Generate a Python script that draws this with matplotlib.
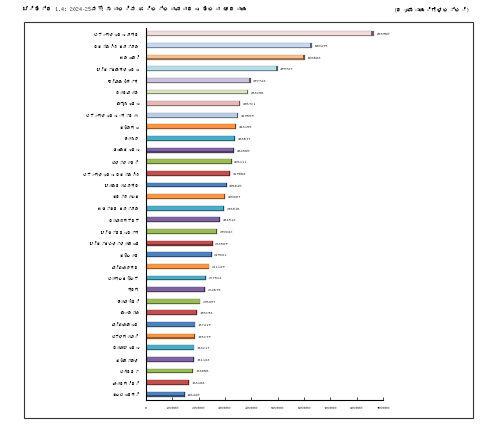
# district per capita income chart (2024-25), horizontal bars
import numpy as np
import matplotlib
matplotlib.use("Agg")
import matplotlib.pyplot as plt
from matplotlib import font_manager
from matplotlib.ft2font import FT2Font
from matplotlib.patches import Rectangle

# data, top to bottom as in the picture
districts = ["ಬೆಂಗಳೂರು ನಗರ", "ದಕ್ಷಿಣ ಕನ್ನಡ", "ಉಡುಪಿ", "ಚಿಕ್ಕಮಗಳೂರು", "ಶಿವಮೊಗ್ಗ",
             "ಧಾರವಾಡ", "ಮೈಸೂರು", "ಬೆಂಗಳೂರು (ಗ್ರಾ)", "ಕೊಡಗು", "ಹಾಸನ",
             "ತುಮಕೂರು", "ಬಳ್ಳಾರಿ", "ಬೆಂಗಳೂರು ದಕ್ಷಿಣ", "ಚಾಮರಾಜನಗರ", "ಕರ್ನಾಟಕ",
             "ಉತ್ತರ ಕನ್ನಡ", "ದಾವಣಗೆರೆ", "ಚಿತ್ರದುರ್ಗ", "ಚಿಕ್ಕಬಳ್ಳಾಪುರ", "ಕೋಲಾರ",
             "ವಿಜಯನಗರ", "ಬಾಗಲಕೋಟೆ", "ಗದಗ", "ಹಾವೇರಿ", "ಮಂಡ್ಯ",
             "ವಿಜಯಪುರ", "ಬೆಳಗಾವಿ", "ರಾಯಚೂರು", "ಕೊಪ್ಪಳ", "ಬೀದರ್",
             "ಯಾದಗಿರಿ", "ಕಲಬುರಗಿ"]
income = [865960, 630475, 603683, 499737, 397743,
          388256, 356721, 349559, 343155, 338677,
          334580, 326111, 319068, 306040, 300307,
          296016, 281513, 270332, 253589, 249331,
          241139, 227524, 224675, 206357, 193293,
          187419, 185279, 183217, 181133, 178866,
          163188, 146440]
x_ticks = [0, 100000, 200000, 300000, 400000, 500000, 600000, 700000, 800000, 900000]
title = "ಚಿತ್ರ 1.4: 2024-25ನೇ ಸಾಲಿನ ಜಿಲ್ಲಾವಾರು ತಲಾ ಆದಾಯ"
unit = "(ರೂಪಾಯಿಗಳಲ್ಲಿ)"

# excel-like palette, counted from the bottom bar; later rounds are lighter
base = ["#4F81BD", "#C0504D", "#9BBB59", "#8064A2", "#4BACC6", "#F79646"]
light = ["#B9CDE5", "#E6B9B8", "#D7E4BD", "#CCC1DA", "#B7DEE8", "#FAC090"]
lighter = ["#C6D9F1", "#F2DCDB"]


# find a font that has kannada glyphs, if any is installed
def find_kannada():
    for path in font_manager.findSystemFonts():
        try:
            if 0x0C95 in FT2Font(path).get_charmap():
                return path
        except Exception:
            pass
    return None


kn = find_kannada()
families = ["DejaVu Sans"]
if kn:
    font_manager.fontManager.addfont(kn)
    families = [font_manager.FontProperties(fname=kn).get_name(), "DejaVu Sans"]
plt.rcParams["font.family"] = families

n = len(districts)
colors = []
for i in range(n):
    k = n - 1 - i          # index from the bottom
    if k < 24:
        colors.append(base[k % 6])
    elif k < 30:
        colors.append(light[k % 6])
    else:
        colors.append(lighter[k - 30])


def darker(c, f=0.6):
    r, g, b = matplotlib.colors.to_rgb(c)
    return (r * f, g * f, b * f)


fig = plt.figure(figsize=(4.8, 4.26), dpi=100)
ax = fig.add_axes([0.304, 0.061, 0.494, 0.873])

y = np.arange(n)
ax.barh(y, income, height=0.42, color=colors, edgecolor=[darker(c, 0.75) for c in colors], linewidth=0.3)
# darker lower edge and end cap, gives the cylinder look
ax.barh(y + 0.16, income, height=0.1, color=[darker(c) for c in colors], linewidth=0)
ax.barh(y, [v * 0.012 for v in income], left=[v * 0.988 for v in income], height=0.42,
        color=[darker(c, 0.45) for c in colors], linewidth=0)

for i in range(n):
    ax.text(income[i] + 9000, y[i], str(income[i]), fontsize=3.2, va="center", ha="left")

ax.set_ylim(n - 0.5, -0.5)
ax.set_xlim(0, 900000)
ax.set_yticks(y)
ax.set_yticklabels(districts, fontsize=2.8)
ax.set_xticks(x_ticks)
ax.set_xticklabels([str(t) for t in x_ticks], fontsize=3.2)
ax.tick_params(axis="y", length=0, pad=5)
ax.tick_params(axis="x", direction="in", length=2, width=0.5, pad=4)
for s in ["top", "right"]:
    ax.spines[s].set_visible(False)
ax.spines["left"].set_linewidth(0.8)
ax.spines["bottom"].set_linewidth(0.8)

# outer frame around the chart
fig.add_artist(Rectangle((0.05, 0.019), 0.935, 0.93, transform=fig.transFigure,
                         fill=False, edgecolor="#333333", linewidth=0.8))

fig.text(0.046, 0.978, title, fontsize=4.3, fontweight="bold", va="center", ha="left")
fig.text(0.98, 0.978, unit, fontsize=4.2, va="center", ha="right")

fig.savefig("out.png", dpi=100)
